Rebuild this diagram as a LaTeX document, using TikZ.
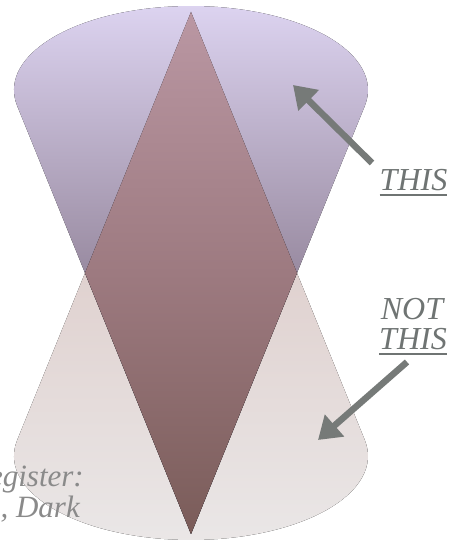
\documentclass[tikz,border=0pt]{standalone}
\usepackage{fontspec}
\setmainfont{Liberation Serif}
\usepackage{tikz}
\usepackage{xcolor}
\usetikzlibrary{arrows.meta,positioning,calc}
\definecolor{lavtop}{HTML}{DDD4F1}
\definecolor{lavmid}{HTML}{9A8CA2}
\definecolor{sandtop}{HTML}{E0D2D0}
\definecolor{sandbot}{HTML}{EAE7E7}
\definecolor{mauvetop}{HTML}{BA97A3}
\definecolor{mauvemid}{HTML}{9D7A80}
\definecolor{mauvebot}{HTML}{7A5C59}
\definecolor{pointer}{HTML}{767A78}
\definecolor{inkgray}{HTML}{6F7473}
\definecolor{fadegray}{HTML}{8A8A8A}
\tikzset{
  futurecone/.style={top color=lavtop,bottom color=lavmid,middle color=lavmid},
  pastcone/.style={top color=sandtop,bottom color=sandbot,middle color=sandtop},
  diamondfill/.style={top color=mauvetop,bottom color=mauvebot,middle color=mauvemid},
  bigword/.style={inner sep=0pt,anchor=base,text=inkgray,
                  font=\fontsize{32}{32}\selectfont\itshape},
  cutword/.style={inner sep=0pt,anchor=base east,text=fadegray,
                  font=\fontsize{31}{31}\selectfont\itshape},
  underrule/.style={draw=inkgray,line width=1.8pt},
  pointarr/.style={-{Triangle[length=22pt,width=28pt]},line width=6.5pt,color=pointer}
}
\begin{document}
\begin{tikzpicture}[x=1pt,y=1pt]
  \useasboundingbox (0,0) rectangle (453,544);
  % apexes and cone rims
  \coordinate (pbot) at (191,10);
  \coordinate (ptop) at (191,532);
  \coordinate (rimtl) at (17.2,438.1);
  \coordinate (rimbl) at (17.2,103.9);
  \coordinate (mleft) at (85,271);
  \coordinate (mright) at (297,271);
  % lower (past) cone of the top point
  \fill[pastcone] (ptop) -- (rimbl)
    arc[start angle=169.1,end angle=370.9,x radius=177,y radius=84] -- cycle;
  % upper (future) cone of the bottom point
  \fill[futurecone] (pbot) -- (rimtl)
    arc[start angle=190.9,end angle=-10.9,x radius=177,y radius=84] -- cycle;
  % the diamond in between
  \fill[diamondfill] (ptop) -- (mright) -- (pbot) -- (mleft) -- cycle;

  \node[bigword] (this) at (413.5,353) {THIS};
  \draw[underrule] ($(this.base west)+(0,-4)$) -- ($(this.base east)+(0,-4)$);
  \node[bigword] (notword) at (412,224) {NOT};
  \node[bigword] (notthis) at (413,194) {THIS};
  \draw[underrule] ($(notthis.base west)+(0,-4)$) -- ($(notthis.base east)+(0,-4)$);

  \node[cutword] (regline) at (84,57) {egister:};
  \node[cutword] (darkline) at (80,27) {, Dark};

  \coordinate (thistail) at (372,381);
  \coordinate (thistip) at (293,459);
  \coordinate (nottail) at (407,182);
  \coordinate (nottip) at (318,104);
  \draw[pointarr] (thistail) -- (thistip);
  \draw[pointarr] (nottail) -- (nottip);
\end{tikzpicture}
\end{document}
